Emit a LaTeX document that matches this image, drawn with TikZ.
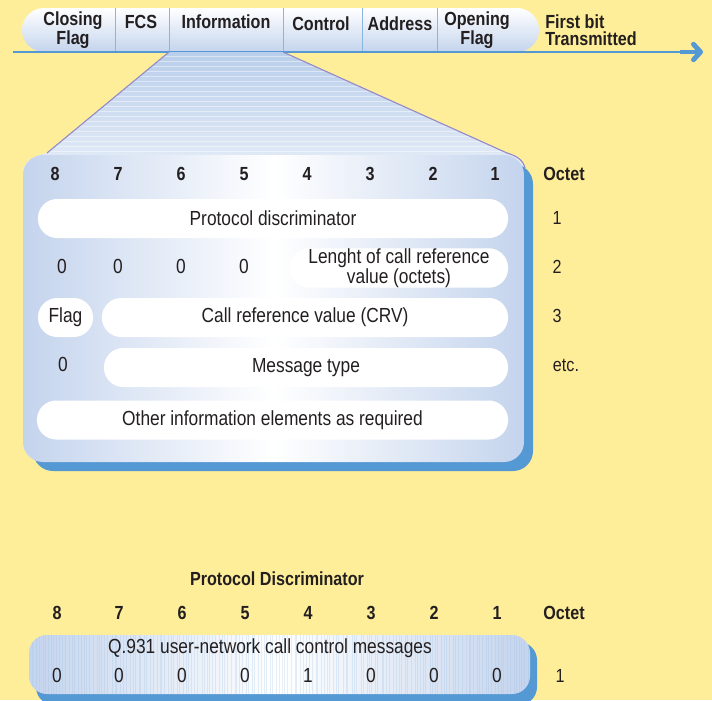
\documentclass[tikz,border=0pt]{standalone}
\usepackage{fontspec}
\setmainfont{Liberation Sans}[FakeStretch=0.85]
\usetikzlibrary{arrows.meta, calc}
\definecolor{bgy}{RGB}{255,238,153}
\definecolor{sb}{RGB}{84,152,212}
\definecolor{pb}{RGB}{196,212,237}
\definecolor{tl}{RGB}{150,138,200}
\definecolor{ink}{RGB}{35,31,32}

\begin{document}
\begin{tikzpicture}[x=0.025cm, y=-0.025cm, text=ink,
    hd/.style={font=\fontsize{13.5}{12}\selectfont\bfseries, align=center, inner sep=0pt},
    bn/.style={font=\fontsize{13.5}{13}\selectfont\bfseries, inner sep=0pt, text height=1.5ex, text depth=0pt},
    tx/.style={font=\fontsize{14.5}{13.5}\selectfont, align=center, inner sep=0pt},
    dg/.style={tx, text height=1.5ex, text depth=0pt},
    pl/.style={tx, fill=white, rounded corners=0.48cm, minimum height=0.975cm},
    oc/.style={font=\fontsize{13.5}{13}\selectfont, inner sep=0pt, text height=1.5ex, text depth=0pt}]
            \clip (0,0) rectangle (712,700);
            \fill[bgy] (0,0) rectangle (712,700);

            \shade[top color=white, bottom color=pb, rounded corners=0.55cm] (22,8) rectangle (539,52);
            \draw[sb!70, line width=0.6pt] (115,8) -- (115,52) (169,8) -- (169,52) (283,8) -- (283,52)
                (362,8) -- (362,52) (437,8) -- (437,52);
            \draw (73,30) node[hd](cf){Closing\\Flag};
            \draw (141,22) node[hd](fcs){FCS};
            \draw (226,22) node[hd](inf){Information};
            \draw (321,24) node[hd](ctl){Control};
            \draw (400,24) node[hd](adr){Address};
            \draw (477,30) node[hd](of){Opening\\Flag};
            \draw (545,30) node[hd, anchor=west, align=left](fb){First bit\\Transmitted};
            \coordinate (ls) at (13,52);
            \coordinate (le) at (680,52);
            \coordinate (tip) at (703,52);
            \draw[sb, line width=1.5pt] (ls) -- (le);
            \draw[sb, line width=3.5pt, -{Straight Barb[round, length=5pt, width=11pt]}] (le) -- (tip);

            \shade[top color=pb!90!sb, bottom color=pb!25] (169,52) -- (283,52) -- (507,153)
                .. controls (517,156) and (523,160) .. (525,168) -- (525,200) -- (23,200) -- (23,172)
                .. controls (24,160) and (34,156) .. (47,153) -- cycle;
            \begin{scope}
                \clip (169,52) -- (283,52) -- (511,155) -- (45,155) -- cycle;
                \foreach \y in {56,61,...,151}
                    \draw[white, opacity=.45, line width=.5pt] (20,\y) -- (530,\y);
            \end{scope}
            \draw[tl, line width=0.8pt] (47,153) -- (169,52);
            \draw[tl, line width=0.8pt] (283,52) -- (507,153) .. controls (517,156) and (523,160) .. (525,168);

            \fill[sb, rounded corners=0.5cm] (33,164) rectangle (533,471);
            \shade[left color=pb, right color=pb, middle color=white, rounded corners=0.5cm] (23,155) rectangle (524,462);

            \draw (55,175) node[bn](t8){8};
            \draw (118,175) node[bn](t7){7};
            \draw (181,175) node[bn](t6){6};
            \draw (244,175) node[bn](t5){5};
            \draw (307,175) node[bn](t4){4};
            \draw (370,175) node[bn](t3){3};
            \draw (433,175) node[bn](t2){2};
            \draw (495,175) node[bn](t1){1};
            \draw (564,175) node[bn](toc){Octet};

            \draw (273,218.5) node[pl, minimum width=11.75cm](pd){Protocol discriminator};
            \draw (62,268) node[dg](z8){0};
            \draw (118,268) node[dg](z7){0};
            \draw (181,268) node[dg](z6){0};
            \draw (244,268) node[dg](z5){0};
            \draw (399,268) node[pl, minimum width=5.45cm](lcr){Lenght of call reference\\value (octets)};
            \draw (65.5,317.5) node[pl, minimum width=1.375cm](fl){Flag};
            \draw (305,317.5) node[pl, minimum width=10.15cm](crv){Call reference value (CRV)};
            \draw (63,366) node[dg](m8){0};
            \draw (306,367.5) node[pl, minimum width=10.1cm](mt){Message type};
            \draw (272.5,420) node[pl, minimum width=11.775cm](oie){Other information elements as required};

            \draw (557,219) node[oc](o1){1};
            \draw (557,268) node[oc](o2){2};
            \draw (557,317) node[oc](o3){3};
            \draw (566,366) node[oc](oe){etc.};

            \draw (277,580) node[bn](pdh){Protocol Discriminator};
            \draw (57,614) node[bn](b8){8};
            \draw (119,614) node[bn](b7){7};
            \draw (182,614) node[bn](b6){6};
            \draw (245,614) node[bn](b5){5};
            \draw (308,614) node[bn](b4){4};
            \draw (371,614) node[bn](b3){3};
            \draw (434,614) node[bn](b2){2};
            \draw (497,614) node[bn](b1){1};
            \draw (564,614) node[bn](boc){Octet};

            \fill[sb, rounded corners=0.45cm] (36,642) rectangle (537,705);
            \shade[left color=pb, right color=pb, middle color=white, rounded corners=0.45cm] (29,635) rectangle (530,694);
            \begin{scope}
                \clip[rounded corners=0.45cm] (29,635) rectangle (530,694);
                \pgfmathsetseed{7}
                \foreach \i in {0,...,165}
                    \draw[sb!60, opacity=.25, line width=.4pt] ({32+3*\i+2*rnd},635) -- ++(0,59);
            \end{scope}
            \draw (270,648) node[tx](q931){Q.931 user-network call control messages};
            \draw (57,677) node[dg](d8){0};
            \draw (119,677) node[dg](d7){0};
            \draw (182,677) node[dg](d6){0};
            \draw (245,677) node[dg](d5){0};
            \draw (308,677) node[dg](d4){1};
            \draw (371,677) node[dg](d3){0};
            \draw (434,677) node[dg](d2){0};
            \draw (497,677) node[dg](d1){0};
            \draw (560,677) node[oc](p1){1};
        \end{tikzpicture}
\end{document}
